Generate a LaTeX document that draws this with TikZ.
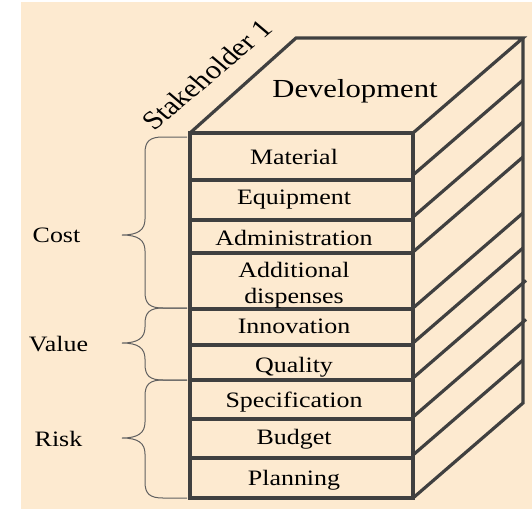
\documentclass[tikz,border=0pt]{standalone}
\usepackage{fontspec}
\setmainfont{Liberation Serif}
\newfontfamily\widefont[FakeStretch=1.18]{Liberation Serif}
\usetikzlibrary{calc}
\definecolor{peach}{RGB}{253,234,208}
\definecolor{edgegray}{RGB}{64,64,64}
\definecolor{bracegray}{RGB}{96,96,96}
\newcommand\sidebrace[3]{%
  \draw[bracestyle] (187,#1) -- (163,#1) .. controls (150,#1) and (145,#1+4) .. (145,#1+16)
    -- (145,#3-16) .. controls (145,#3-5) and (138,#3) .. (122,#3)
    .. controls (138,#3) and (145,#3+5) .. (145,#3+16)
    -- (145,#2-16) .. controls (145,#2-4) and (150,#2) .. (163,#2) -- (187,#2);}
\begin{document}
\begin{tikzpicture}[x=1pt,y=-1pt,
  rowbox/.style={draw=edgegray, line width=3.2pt, minimum width=223pt, inner sep=0pt, outer sep=0pt, anchor=north west},
  edgeline/.style={draw=edgegray, line width=3.2pt},
  rowtext/.style={font=\widefont\fontsize{22}{26}\selectfont, anchor=base, inner sep=0pt, text=black},
  bigtext/.style={font=\widefont\fontsize{26}{30}\selectfont, anchor=base, inner sep=0pt, text=black},
  bracestyle/.style={draw=bracegray, line width=1pt},
]
\useasboundingbox (0,0) rectangle (532,509);
\fill[white] (0,0) rectangle (532,509);
\fill[peach] (21,2) rectangle (532,509);

% front face rows
\node[rowbox, minimum height=47pt] (r1) at (190,133) {};
\node[rowbox, minimum height=40pt] (r2) at (190,180) {};
\node[rowbox, minimum height=33pt] (r3) at (190,220) {};
\node[rowbox, minimum height=56pt] (r4) at (190,253) {};
\node[rowbox, minimum height=36pt] (r5) at (190,309) {};
\node[rowbox, minimum height=35pt] (r6) at (190,345) {};
\node[rowbox, minimum height=39pt] (r7) at (190,380) {};
\node[rowbox, minimum height=39pt] (r8) at (190,419) {};
\node[rowbox, minimum height=40pt] (r9) at (190,458) {};

% top face and side
\coordinate (btl) at ($(r1.north west)+(106,-95)$);
\coordinate (btr) at ($(r1.north east)+(110,-95)$);
\coordinate (bbr) at ($(r9.south east)+(110,-95)$);
\draw[edgeline] (r1.north west) -- (btl) -- (btr) -- (r1.north east);
\draw[edgeline] (btr) -- (bbr) -- (r9.south east);
\foreach \i/\d in {2/-5,3/-3,4/-1,5/-1,6/-2,9/-3}
  \draw[edgeline] ($(r\i.north east)+(0,\d)$) -- ++(110,-95);
\foreach \i/\d in {7/-2,8/-2}
  \draw[edgeline] ($(r\i.north east)+(0,\d)$) -- ++(113,-97.6);

% texts
\node[bigtext] (dev) at (355,97) {Development};
\node[rowtext] (t1) at (294,164) {Material};
\node[rowtext] (t2) at (294,204) {Equipment};
\node[rowtext] (t3) at (294,245) {Administration};
\node[rowtext] (t4a) at (294,277) {Additional};
\node[rowtext] (t4b) at (294,303) {dispenses};
\node[rowtext] (t5) at (294,333) {Innovation};
\node[rowtext] (t6) at (294,372) {Quality};
\node[rowtext] (t7) at (294,407) {Specification};
\node[rowtext] (t8) at (294,444) {Budget};
\node[rowtext] (t9) at (294,485) {Planning};

\begin{scope}[shift={(154,132)}, xscale=1.18]
  \node[font=\fontsize{26}{30}\selectfont, rotate=45, transform shape, anchor=base west, inner sep=0pt] (stake) at (0,0) {Stakeholder 1};
\end{scope}

% braces and labels
\sidebrace{137}{308}{235}
\sidebrace{308}{380}{343}
\sidebrace{380}{498}{438}
\node[rowtext] (cost) at (56.5,242) {Cost};
\node[rowtext] (value) at (58.5,351) {Value};
\node[rowtext] (risk) at (58.5,446) {Risk};
\end{tikzpicture}
\end{document}
